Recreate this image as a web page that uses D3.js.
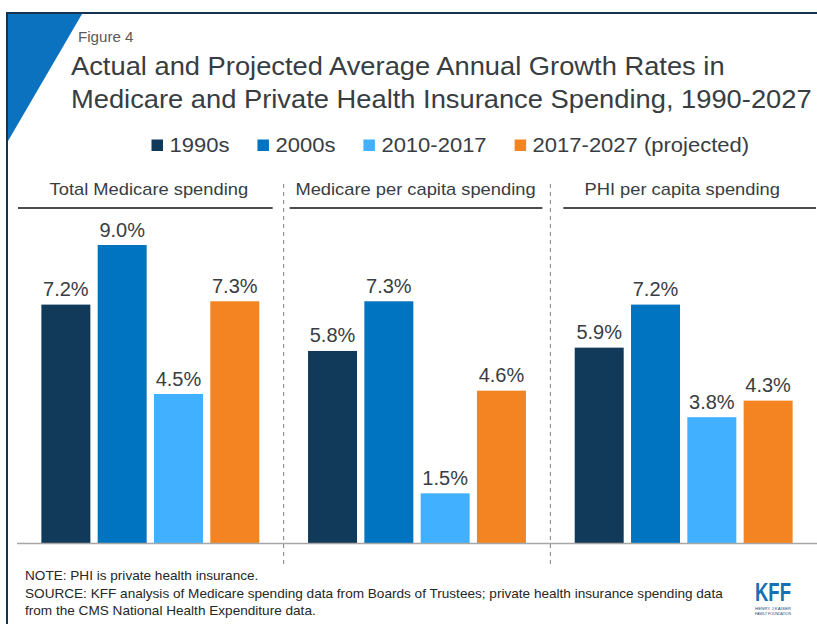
<!DOCTYPE html>
<html>
<head>
<meta charset="utf-8">
<script src="https://cdn.jsdelivr.net/npm/d3@7"></script>
<style>
  html, body { margin: 0; padding: 0; background: #fff; }
  svg { display: block; font-family: Arial, "Liberation Sans", sans-serif; }
</style>
</head>
<body>
<svg id="chart" width="817" height="624"></svg>
<script>
// ---- Data ----
const panels = ["Total Medicare spending", "Medicare per capita spending", "PHI per capita spending"];
const seriesNames = ["1990s", "2000s", "2010-2017", "2017-2027 (projected)"];
const values1990s = [7.2, 5.8, 5.9];
const values2000s = [9.0, 7.3, 7.2];
const values2010 = [4.5, 1.5, 3.8];
const values2017 = [7.3, 4.6, 4.3];
const seriesColors = ["#11395a", "#0074c1", "#41b0fe", "#f48421"];
const titleLines = ["Actual and Projected Average Annual Growth Rates in",
                    "Medicare and Private Health Insurance Spending, 1990-2027"];
const figureLabel = "Figure 4";
const noteLines = ["NOTE: PHI is private health insurance.",
  "SOURCE: KFF analysis of Medicare spending data from Boards of Trustees; private health insurance spending data",
  "from the CMS National Health Expenditure data."];

const seriesValues = [values1990s, values2000s, values2010, values2017];
const data = panels.map((p, i) => ({
  panel: p,
  bars: seriesNames.map((s, j) => ({ series: s, value: seriesValues[j][i], color: seriesColors[j] }))
}));

// ---- Layout ----
const svg = d3.select("#chart");
const textColor = "#383d42";

// widen text horizontally by a factor (reference glyphs are slightly wide)
function stretch(sel, f) {
  sel.each(function() {
    const w = this.getComputedTextLength();
    d3.select(this).attr("textLength", w * f).attr("lengthAdjust", "spacingAndGlyphs");
  });
  return sel;
}

// frame + corner triangle
svg.append("path")
  .attr("d", "M8,14 L82,14 L8,141 Z")
  .attr("fill", "#0a72be");
svg.append("path")
  .attr("d", "M7,625 L7,13 L818,13")
  .attr("fill", "none").attr("stroke", "#16324f").attr("stroke-width", 2);

// figure label and title
stretch(svg.append("text").attr("x", 78).attr("y", 42)
  .attr("font-size", 14).attr("fill", "#595959").text(figureLabel), 1.08);
stretch(svg.append("g").selectAll("text").data(titleLines).join("text")
  .attr("x", 71).attr("y", (d, i) => 75 + i * 32.5)
  .attr("font-size", 26).attr("fill", textColor).text(d => d), 1.05);

// legend
const legend = svg.append("g");
const items = legend.selectAll("g").data(seriesNames).join("g");
items.append("rect").attr("width", 11.5).attr("height", 11.5)
  .attr("y", 139.5).attr("fill", (d, i) => seriesColors[i]);
const ltext = items.append("text").attr("x", 18).attr("y", 152)
  .attr("font-size", 20).attr("fill", textColor).text(d => d);
stretch(ltext, 1.1);
const widths = [];
ltext.each(function() { widths.push(18 + (+this.getAttribute("textLength"))); });
const gap = 28;
let lx = 151.5;
items.attr("transform", (d, i) => {
  const t = `translate(${lx},0)`;
  lx += widths[i] + gap;
  return t;
});

// scales
const panelX = d3.scaleBand().domain(panels).range([17, 817]).paddingInner(0).paddingOuter(0);
const barX = d3.scaleBand().domain(seriesNames).range([0, panelX.bandwidth()])
  .paddingInner(0.13).paddingOuter(0.433);
const y = d3.scaleLinear().domain([0, 9]).range([543, 245]);

const lineInsets = [[1, 11], [6, 8], [13, 1]];

const pg = svg.append("g").selectAll("g").data(data).join("g")
  .attr("transform", d => `translate(${panelX(d.panel)},0)`);

stretch(pg.append("text")
  .attr("x", panelX.bandwidth() / 2 - 1.5).attr("y", 195)
  .attr("text-anchor", "middle").attr("font-size", 17).attr("fill", textColor)
  .text(d => d.panel), 1.077);
pg.append("line")
  .attr("x1", (d, i) => lineInsets[i][0])
  .attr("x2", (d, i) => panelX.bandwidth() - lineInsets[i][1])
  .attr("y1", 208).attr("y2", 208)
  .attr("stroke", "#111").attr("stroke-width", 1.5);

pg.selectAll("rect").data(d => d.bars).join("rect")
  .attr("x", d => barX(d.series)).attr("width", barX.bandwidth())
  .attr("y", d => y(d.value)).attr("height", d => y(0) - y(d.value))
  .attr("fill", d => d.color);
pg.selectAll("text.val").data(d => d.bars).join("text").attr("class", "val")
  .attr("x", d => barX(d.series) + barX.bandwidth() / 2)
  .attr("y", d => y(d.value) - 8.5)
  .attr("text-anchor", "middle").attr("font-size", 20).attr("fill", textColor)
  .text(d => d.value.toFixed(1) + "%");

// baseline
svg.append("line").attr("x1", 17).attr("x2", 817)
  .attr("y1", y(0) + 0.5).attr("y2", y(0) + 0.5)
  .attr("stroke", "#a6a6a6").attr("stroke-width", 1.5);

// separators
svg.append("g").selectAll("line").data(panels.slice(1)).join("line")
  .attr("x1", d => panelX(d)).attr("x2", d => panelX(d))
  .attr("y1", 184).attr("y2", 566)
  .attr("stroke", "#7f7f7f").attr("stroke-width", 1).attr("stroke-dasharray", "4,4");

// notes
stretch(svg.append("g").selectAll("text").data(noteLines).join("text")
  .attr("x", 25).attr("y", (d, i) => 580 + i * 17.5)
  .attr("font-size", 13).attr("fill", "#262626").text(d => d), 1.045);

// KFF logo
const logo = svg.append("g").attr("transform", "translate(755,580)");
logo.append("text").attr("x", 0).attr("y", 21)
  .attr("font-size", 26).attr("font-weight", "bold").attr("fill", "#1670b5")
  .attr("textLength", 36).attr("lengthAdjust", "spacingAndGlyphs")
  .text("KFF");
logo.append("text").attr("x", 0).attr("y", 30)
  .attr("font-size", 4).attr("fill", "#1a4f7a")
  .attr("textLength", 36).attr("lengthAdjust", "spacingAndGlyphs")
  .text("HENRY J KAISER");
logo.append("text").attr("x", 0).attr("y", 35)
  .attr("font-size", 4).attr("fill", "#1a4f7a")
  .attr("textLength", 36).attr("lengthAdjust", "spacingAndGlyphs")
  .text("FAMILY FOUNDATION");
</script>
</body>
</html>
